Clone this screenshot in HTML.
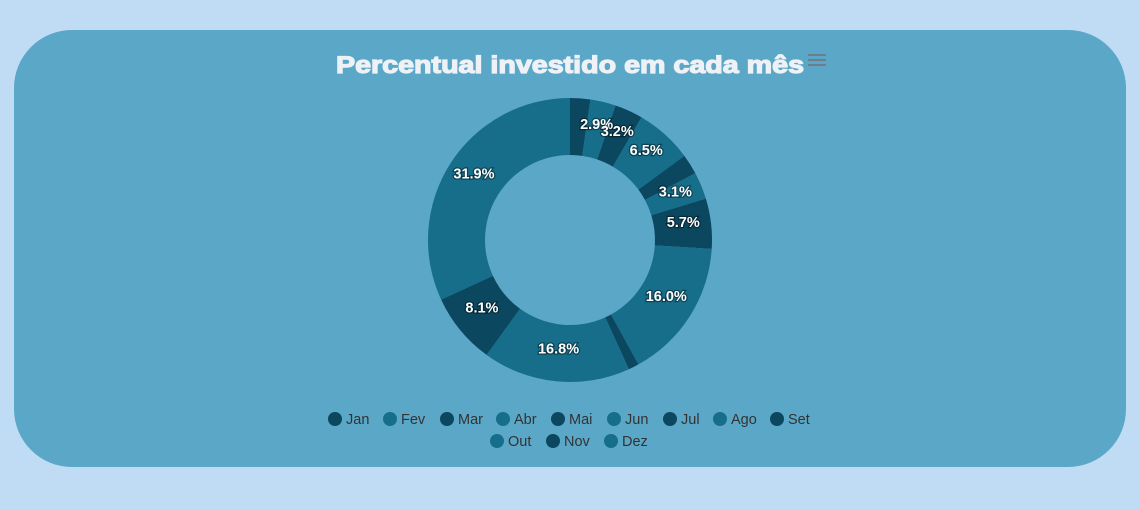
<!DOCTYPE html>
<html><head><meta charset="utf-8"><style>
body{margin:0;width:1140px;height:510px;background:#c0dcf5;font-family:"Liberation Sans",Arial,sans-serif;overflow:hidden}
#card{position:absolute;left:14px;top:30px;width:1112px;height:437px;border-radius:58px;background:#5ba7c8}
svg{position:absolute;left:0;top:0}
</style></head><body>
<div id="card"></div>
<svg id="chart" width="1140" height="510">
<text x="570" y="73" text-anchor="middle" font-size="24" font-weight="900" fill="#eef2f6" font-family="Liberation Sans, sans-serif" stroke="#eef2f6" stroke-width="1.2" textLength="468" lengthAdjust="spacingAndGlyphs">Percentual investido em cada mês</text>
<g stroke="#6e7f8c" stroke-width="2"><line x1="808" y1="55" x2="826" y2="55"/><line x1="808" y1="60" x2="826" y2="60"/><line x1="808" y1="65" x2="826" y2="65"/></g>
<g id="slices"></g><g id="labels"></g><g id="legend"></g>
</svg>
<script>
const categories=["Jan","Fev","Mar","Abr","Mai","Jun","Jul","Ago","Set","Out","Nov","Dez"];
const values=[2.3,2.9,3.2,6.5,2.3,3.1,5.7,16.0,1.2,16.8,8.1,31.9];
const colors=["#0c4760","#176e8a"];
const NS="http://www.w3.org/2000/svg";
const cx=570,cy=240,R=142,r=85;
const total=values.reduce((a,b)=>a+b,0);
function pt(a,rad){return [cx+rad*Math.sin(a),cy-rad*Math.cos(a)];}
let acc=0;
const gs=document.getElementById('slices'),gl=document.getElementById('labels'),gg=document.getElementById('legend');
values.forEach((v,i)=>{
 const a0=acc/total*2*Math.PI;acc+=v;const a1=acc/total*2*Math.PI;
 const [x0,y0]=pt(a0,R),[x1,y1]=pt(a1,R),[x2,y2]=pt(a1,r),[x3,y3]=pt(a0,r);
 const lg=(a1-a0)>Math.PI?1:0;
 const p=document.createElementNS(NS,'path');
 p.setAttribute('d',`M${x0},${y0}A${R},${R} 0 ${lg} 1 ${x1},${y1}L${x2},${y2}A${r},${r} 0 ${lg} 0 ${x3},${y3}Z`);
 p.setAttribute('fill',colors[i%2]);
 
 
 gs.appendChild(p);
 const pct=v/total*100;
 if(pct>=2.5){
  const [lx,ly]=pt((a0+a1)/2,114);
  const t=document.createElementNS(NS,'text');
  t.setAttribute('x',lx);t.setAttribute('y',ly);
  t.setAttribute('text-anchor','middle');t.setAttribute('font-size','14.5');t.setAttribute('font-weight','bold');
  t.setAttribute('fill','#fff');t.setAttribute('style','paint-order:stroke');t.setAttribute('stroke','rgba(0,0,0,0.4)');t.setAttribute('stroke-width','2.5');
  t.textContent=pct.toFixed(1)+'%';
  
  
  gl.appendChild(t);
 }
});
const row1=[335,390,447,503,558,614,670,720,777];
const row2=[497,553,611];
categories.forEach((c,i)=>{
 const x=i<9?row1[i]:row2[i-9],y=i<9?419:441;
 const g=document.createElementNS(NS,'g');
 
 
 const ci=document.createElementNS(NS,'circle');
 ci.setAttribute('cx',x);ci.setAttribute('cy',y);ci.setAttribute('r',7);ci.setAttribute('fill',colors[i%2]);
 const t=document.createElementNS(NS,'text');
 t.setAttribute('x',x+11);t.setAttribute('y',y+5);t.setAttribute('font-size','14.5');t.setAttribute('fill','#333');
 t.textContent=c;
 g.appendChild(ci);g.appendChild(t);gg.appendChild(g);
});
</script>
</body></html>
